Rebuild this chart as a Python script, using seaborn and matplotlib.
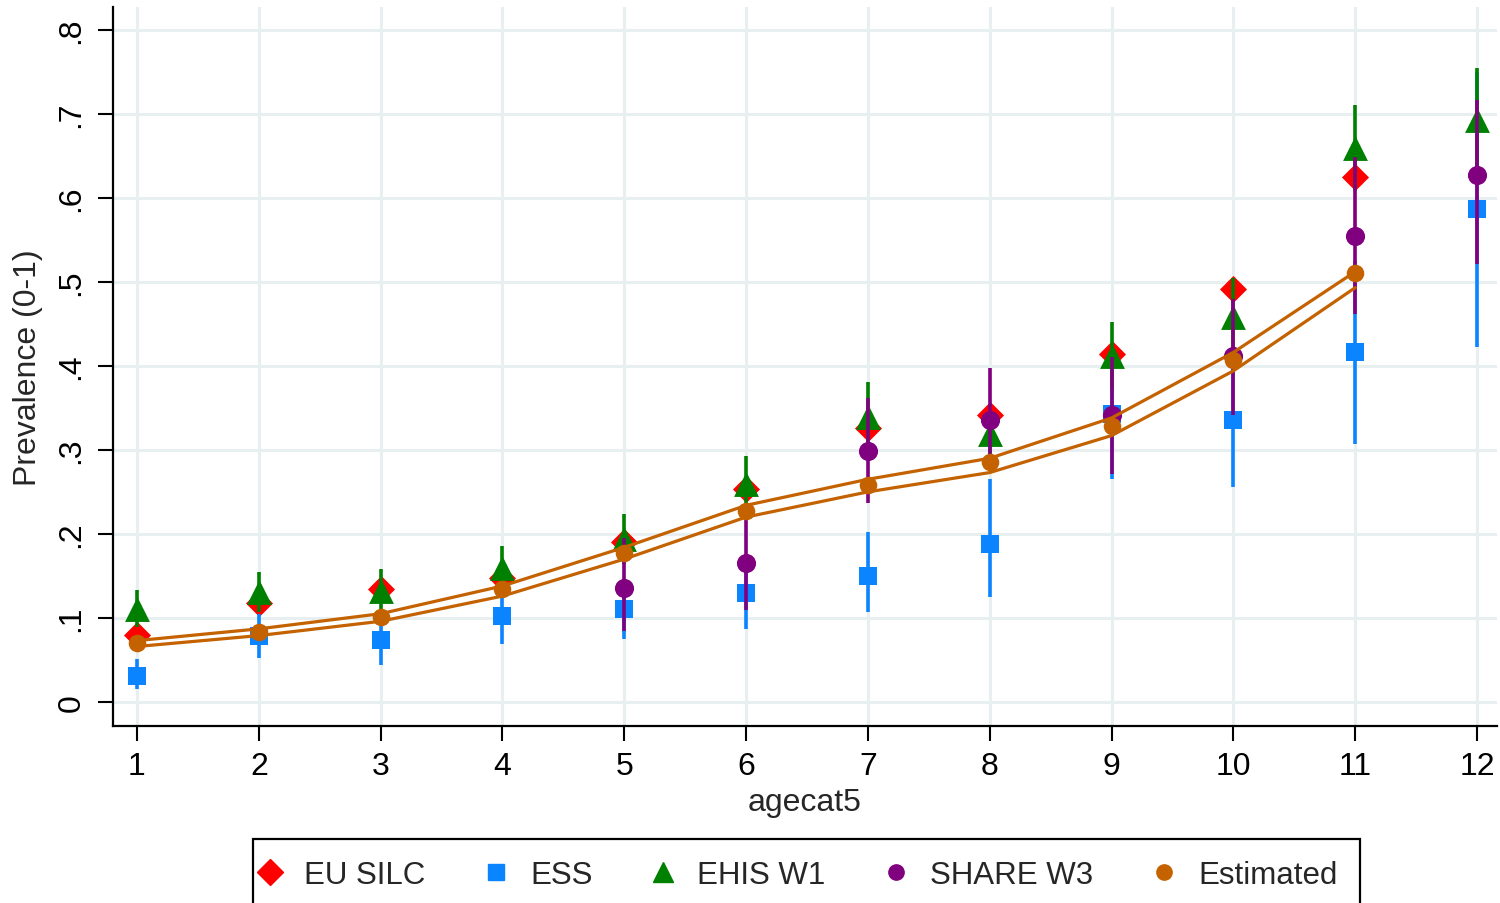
import numpy as np
import pandas as pd
import matplotlib
matplotlib.use("Agg")
import matplotlib.pyplot as plt
from matplotlib.lines import Line2D
from matplotlib.patches import Rectangle
import seaborn as sns

# Prevalence by 5-year age category, by survey, with 95% intervals
ages_silc = [1, 2, 3, 4, 5, 6, 7, 8, 9, 10, 11]
eu_silc = [0.080, 0.118, 0.135, 0.148, 0.190, 0.253, 0.326, 0.341, 0.414, 0.492, 0.625]

ages_ess = [1, 2, 3, 4, 5, 6, 7, 8, 9, 10, 11, 12]
ess = [0.031, 0.078, 0.074, 0.102, 0.111, 0.130, 0.150, 0.188, 0.343, 0.336, 0.416, 0.587]
ess_lo = [0.015, 0.052, 0.044, 0.069, 0.075, 0.087, 0.107, 0.125, 0.265, 0.256, 0.307, 0.422]
ess_hi = [0.051, 0.105, 0.100, 0.135, 0.145, 0.170, 0.202, 0.265, 0.420, 0.415, 0.525, 0.750]

ages_ehis = [1, 2, 3, 4, 5, 6, 7, 8, 9, 10, 11, 12]
ehis = [0.111, 0.131, 0.132, 0.160, 0.194, 0.259, 0.339, 0.319, 0.412, 0.458, 0.659, 0.693]
ehis_lo = [0.089, 0.107, 0.106, 0.134, 0.164, 0.225, 0.297, 0.295, 0.372, 0.412, 0.608, 0.631]
ehis_hi = [0.133, 0.155, 0.158, 0.186, 0.224, 0.293, 0.381, 0.343, 0.452, 0.504, 0.710, 0.755]

ages_share = [5, 6, 7, 8, 9, 10, 11, 12]
share = [0.136, 0.165, 0.299, 0.335, 0.341, 0.412, 0.555, 0.627]
share_lo = [0.085, 0.109, 0.237, 0.293, 0.271, 0.341, 0.462, 0.521]
share_hi = [0.195, 0.225, 0.362, 0.398, 0.411, 0.480, 0.648, 0.716]

ages_est = [1, 2, 3, 4, 5, 6, 7, 8, 9, 10, 11]
estimated = [0.070, 0.083, 0.101, 0.135, 0.177, 0.227, 0.258, 0.285, 0.328, 0.407, 0.511]
est_lo = [0.066, 0.079, 0.096, 0.126, 0.170, 0.220, 0.250, 0.273, 0.317, 0.394, 0.493]
est_hi = [0.073, 0.087, 0.105, 0.138, 0.184, 0.234, 0.265, 0.290, 0.338, 0.416, 0.512]

x_ticks = list(range(1, 13))
y_ticks = [0, 0.1, 0.2, 0.3, 0.4, 0.5, 0.6, 0.7, 0.8]
y_ticklabels = ["0", ".1", ".2", ".3", ".4", ".5", ".6", ".7", ".8"]

RED = "#ff0000"
BLUE = "#0a84ff"
GREEN = "#008000"
PURPLE = "#800080"
ORANGE = "#c46200"
GRID = "#e7eff1"

sns.set_theme(style="ticks")
plt.rcParams["font.family"] = ["Liberation Sans", "DejaVu Sans"]

W, H = 1500, 904
fig = plt.figure(figsize=(W / 100, H / 100), dpi=100)
ax = fig.add_axes([113 / W, 1 - 727 / H, (1497 - 113) / W, (727 - 8) / H])

ax.set_xlim(0.803, 12.164)
ax.set_ylim(-0.0286, 0.827)
ax.set_xticks(x_ticks)
ax.set_yticks(y_ticks)
ax.set_yticklabels(y_ticklabels, rotation=90, va="center")
ax.grid(True, color=GRID, linewidth=2.2, zorder=0)
ax.set_axisbelow(True)
for side in ("top", "right"):
    ax.spines[side].set_visible(False)
for side in ("left", "bottom"):
    ax.spines[side].set_linewidth(1.6)
    ax.spines[side].set_color("black")
ax.tick_params(axis="both", length=11, width=1.5, color="black",
               labelsize=23, labelcolor="black")
ax.tick_params(axis="x", pad=7)
ax.tick_params(axis="y", pad=8)

series_df = {
    "silc": pd.DataFrame({"age": ages_silc, "p": eu_silc}),
    "ess": pd.DataFrame({"age": ages_ess, "p": ess, "lo": ess_lo, "hi": ess_hi}),
    "ehis": pd.DataFrame({"age": ages_ehis, "p": ehis, "lo": ehis_lo, "hi": ehis_hi}),
    "share": pd.DataFrame({"age": ages_share, "p": share, "lo": share_lo, "hi": share_hi}),
}
est_df = pd.DataFrame({"age": ages_est, "p": estimated, "lo": est_lo, "hi": est_hi})

# survey points, each with its confidence bar, stacked in legend order
sns.scatterplot(data=series_df["silc"], x="age", y="p", marker="D", s=190,
                color=RED, linewidth=0, ax=ax, zorder=3)

layers = [("ess", "s", BLUE, 185, 4), ("ehis", "^", GREEN, 320, 5),
          ("share", "o", PURPLE, 190, 6)]
for key, mk, col, size, z in layers:
    d = series_df[key]
    ax.vlines(d["age"], d["lo"], d["hi"], color=col, linewidth=2.6, zorder=z)
    sns.scatterplot(data=d, x="age", y="p", marker=mk, s=size, color=col,
                    linewidth=0, ax=ax, zorder=z)

# model estimate with its interval band drawn as two lines
sns.lineplot(data=est_df, x="age", y="hi", color=ORANGE, linewidth=2.3,
             ax=ax, zorder=7)
sns.lineplot(data=est_df, x="age", y="lo", color=ORANGE, linewidth=2.3,
             ax=ax, zorder=7)
sns.scatterplot(data=est_df, x="age", y="p", marker="o", s=160, color=ORANGE,
                linewidth=0, ax=ax, zorder=8)

ax.set_xlabel("agecat5", fontsize=23, labelpad=4)
ax.set_ylabel("Prevalence (0-1)", fontsize=23, labelpad=10)

handles = [
    Line2D([], [], linestyle="none", marker="D", markersize=13, color=RED),
    Line2D([], [], linestyle="none", marker="s", markersize=11, color=BLUE),
    Line2D([], [], linestyle="none", marker="^", markersize=14, color=GREEN),
    Line2D([], [], linestyle="none", marker="o", markersize=11, color=PURPLE),
    Line2D([], [], linestyle="none", marker="o", markersize=11, color=ORANGE),
]
labels = ["EU SILC", "ESS", "EHIS W1", "SHARE W3", "Estimated"]
leg = fig.legend(handles, labels, loc="center", ncol=5,
                 bbox_to_anchor=(796 / W, 1 - 876 / H), fontsize=22.5,
                 frameon=False, handlelength=1.0,
                 handletextpad=0.6, columnspacing=1.75, borderpad=0.0,
                 borderaxespad=0.0)

# legend box, running past the lower edge of the figure
fig.patches.append(Rectangle((253 / W, 1 - 912 / H), (1360 - 253) / W, 72 / H,
                             transform=fig.transFigure, fill=False,
                             edgecolor="black", linewidth=1.6))

fig.savefig("out.png", dpi=100)
